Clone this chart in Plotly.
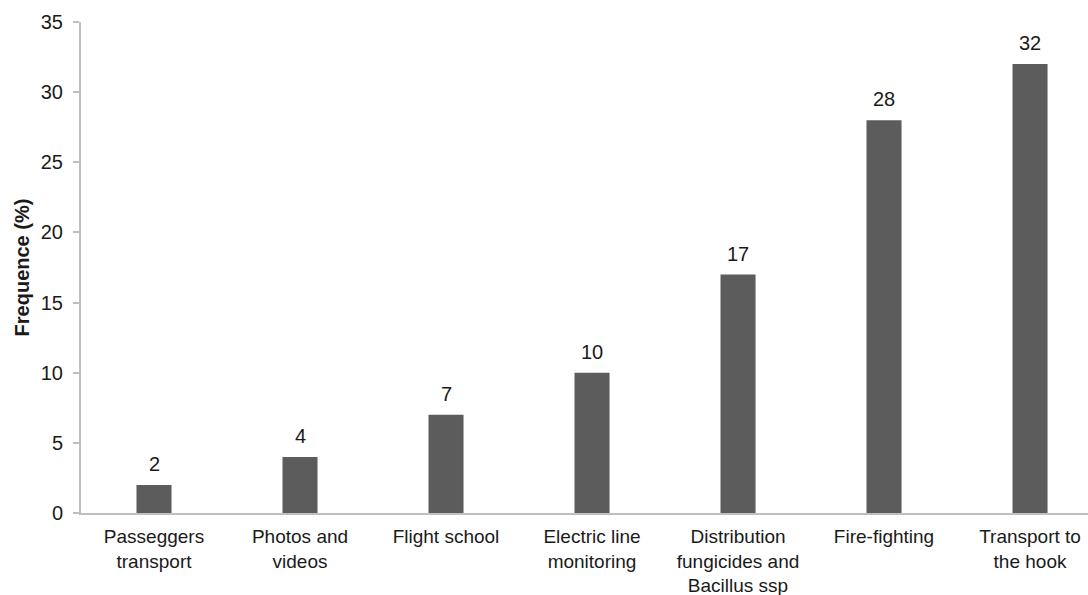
import plotly.graph_objects as go

# Usage categories and their frequency (%)
categories = [
    "Passeggers<br>transport",
    "Photos and<br>videos",
    "Flight school",
    "Electric line<br>monitoring",
    "Distribution<br>fungicides and<br>Bacillus ssp",
    "Fire-fighting",
    "Transport to<br>the hook",
]
frequency = [2, 4, 7, 10, 17, 28, 32]
y_ticks = [0, 5, 10, 15, 20, 25, 30, 35]

FONT = "Liberation Sans, Arial, sans-serif"
BAR_COLOR = "#5c5c5c"
AXIS_COLOR = "#bfbfbf"
TEXT_COLOR = "#1a1a1a"

fig = go.Figure()
fig.add_trace(
    go.Bar(
        x=categories,
        y=frequency,
        width=0.24,
        marker=dict(color=BAR_COLOR, line=dict(width=0)),
        hoverinfo="x+y",
    )
)

# value labels above each bar
for cat, val in zip(categories, frequency):
    fig.add_annotation(
        x=cat, y=val, text=str(val), showarrow=False,
        yanchor="bottom", yshift=8,
        font=dict(family=FONT, size=20, color=TEXT_COLOR),
    )

fig.update_layout(
    width=1088, height=595,
    margin=dict(l=81, r=0, t=22, b=82),
    paper_bgcolor="white", plot_bgcolor="white",
    showlegend=False,
    font=dict(family=FONT, size=20, color=TEXT_COLOR),
)
fig.update_xaxes(
    type="category",
    range=[-0.5, 6.397],
    automargin=False,
    showline=True, linecolor=AXIS_COLOR, linewidth=2,
    ticks="", showgrid=False, zeroline=False,
    tickfont=dict(family=FONT, size=19, color=TEXT_COLOR),
    tickangle=0,
    ticklabelstandoff=5,
)
fig.update_yaxes(
    range=[0, 35],
    tickvals=y_ticks,
    automargin=False,
    showline=True, linecolor=AXIS_COLOR, linewidth=2,
    ticks="outside", ticklen=6, tickcolor=AXIS_COLOR, tickwidth=2,
    showgrid=False, zeroline=False,
    tickfont=dict(family=FONT, size=20, color=TEXT_COLOR),
    ticklabelstandoff=6,
    title=dict(text="<b>Frequence (%)</b>", font=dict(family=FONT, size=20, color=TEXT_COLOR), standoff=6),
)

fig.write_html("out.html")
